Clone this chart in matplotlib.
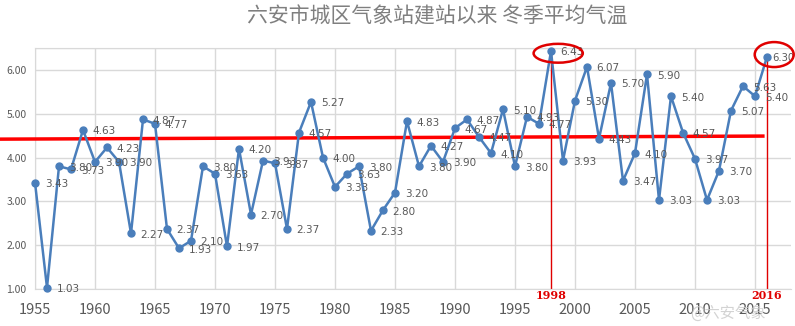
import matplotlib
matplotlib.use("Agg")
import matplotlib.pyplot as plt
from matplotlib.patches import Ellipse

plt.rcParams['font.family'] = ['Noto Sans CJK SC', 'DejaVu Sans']

title = "六安市城区气象站建站以来 冬季平均气温"
years = list(range(1955, 2017))
temps = [3.43, 1.03, 3.80, 3.73, 4.63, 3.90, 4.23, 3.90, 2.27, 4.87,
         4.77, 2.37, 1.93, 2.10, 3.80, 3.63, 1.97, 4.20, 2.70, 3.93,
         3.87, 2.37, 4.57, 5.27, 4.00, 3.33, 3.63, 3.80, 2.33, 2.80,
         3.20, 4.83, 3.80, 4.27, 3.90, 4.67, 4.87, 4.47, 4.10, 5.10,
         3.80, 4.93, 4.77, 6.43, 3.93, 5.30, 6.07, 4.43, 5.70, 3.47,
         4.10, 5.90, 3.03, 5.40, 4.57, 3.97, 3.03, 3.70, 5.07, 5.63,
         5.40, 6.30]
mean_line_x = [1952.0, 2015.8]
mean_line_y = [4.42, 4.49]
highlight_years = [1998, 2016]
xticks = list(range(1955, 2016, 5))
yticks = [1.0, 2.0, 3.0, 4.0, 5.0, 6.0]

W, H = 795, 326
fig = plt.figure(figsize=(W / 100, H / 100), dpi=100)
ax = fig.add_axes([35 / W, 1 - 289 / H, (791 - 35) / W, (289 - 48) / H])

ax.set_xlim(1955, 2018)
ax.set_ylim(1.0, 6.5)
ax.set_xticks(xticks)
ax.set_yticks(yticks + [6.5])
ax.set_yticklabels([f"{v:.2f}" for v in yticks] + [""])
ax.grid(True, color="#d9d9d9", linewidth=1.0)
ax.set_axisbelow(True)
for s in ax.spines.values():
    s.set_color("#d9d9d9")
ax.spines['right'].set_visible(False)
ax.tick_params(axis='both', length=0)
ax.tick_params(axis='x', labelsize=10.5, colors="#595959", pad=10)
ax.tick_params(axis='y', labelsize=7.5, colors="#595959", pad=6)

# red highlight verticals
for yr in highlight_years:
    v = temps[years.index(yr)]
    ax.plot([yr, yr], [1.0, v], color="#e00000", linewidth=1.0, zorder=2)
    ax.text(yr, 0.97, str(yr), color="#e00000", fontsize=8, fontweight="bold",
            ha="center", va="top", family=["DejaVu Serif"])

# mean line
ax.plot(mean_line_x, mean_line_y, color="#ff0000", linewidth=2.5,
        clip_on=False, zorder=3, solid_capstyle="butt")

ax.plot(years, temps, color="#4a7ebb", linewidth=1.8, marker="o",
        markersize=5, zorder=4, clip_on=False)

for i, (yr, v) in enumerate(zip(years, temps)):
    dx = 4.0 if i == len(years) - 1 else 7
    ax.annotate(f"{v:.2f}", (yr, v), xytext=(dx, -1), textcoords="offset points",
                fontsize=7.5 if i < len(years) - 1 else 7.2,
                color="#595959", ha="left", va="center",
                family=["DejaVu Sans"], zorder=5)

# ellipses
ax.add_patch(Ellipse((1998.6, 6.38), 4.1, 0.43, fill=False, edgecolor="#e00000",
                     linewidth=1.8, clip_on=False, zorder=6))
ax.add_patch(Ellipse((2016.6, 6.35), 3.25, 0.57, fill=False, edgecolor="#e00000",
                     linewidth=1.8, clip_on=False, zorder=6))

fig.text(437 / W, 1 - 16 / H, title, ha="center", va="center", fontsize=15,
         color="#7f7f7f")
fig.text(690 / W, 1 - 313 / H, "@六安气象", ha="left", va="center", fontsize=11,
         color="#c8c8c8", alpha=0.8)

fig.savefig("out.png", dpi=100)
